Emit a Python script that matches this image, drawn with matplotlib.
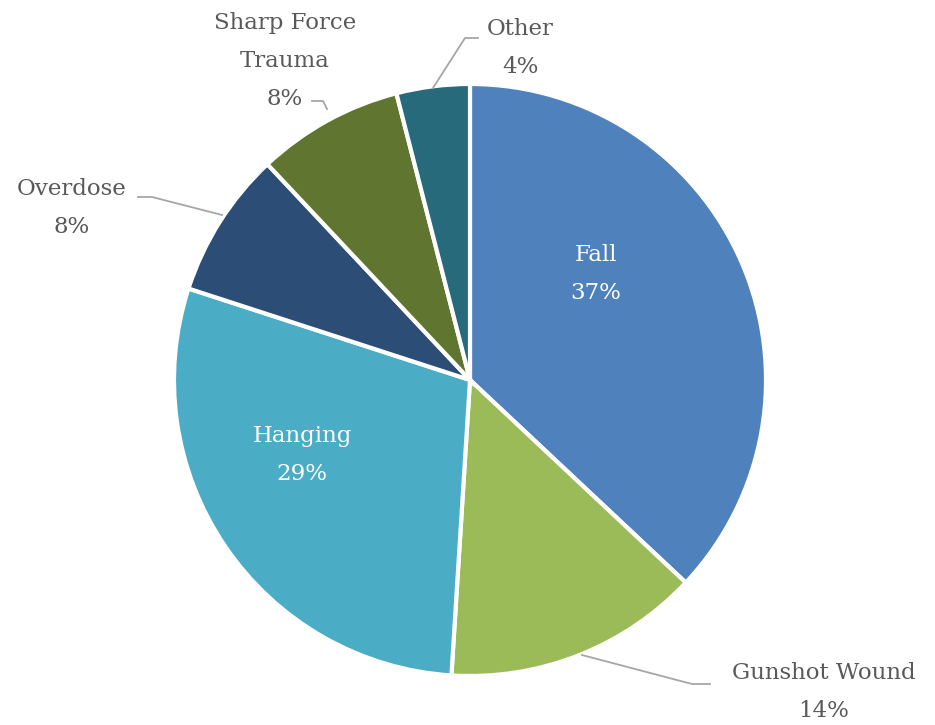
import matplotlib
matplotlib.use("Agg")
import matplotlib.pyplot as plt

labels = ["Fall", "Gunshot Wound", "Hanging", "Overdose", "Sharp Force\nTrauma", "Other"]
shares = [37, 14, 29, 8, 8, 4]
colors = ["#4F81BD", "#9BBB59", "#4BACC6", "#2C4D75", "#5F7530", "#276A7C"]

W, H = 935, 725
fig = plt.figure(figsize=(W / 100, H / 100), dpi=100)
ax = fig.add_axes([0, 0, 1, 1])

cx, cy, R = 470, H - 380, 296
ax.pie(shares, colors=colors, startangle=90, counterclock=False,
       center=(cx, cy), radius=R, frame=True,
       wedgeprops=dict(edgecolor="white", linewidth=3))
ax.set_xlim(0, W)
ax.set_ylim(0, H)
ax.set_aspect("equal")
ax.axis("off")

font = dict(family="DejaVu Serif", fontsize=16.5, ha="center", va="center",
            linespacing=1.95)

# inside labels
ax.text(596, H - 274, f"{labels[0]}\n{shares[0]}%", color="white", **font)
ax.text(302, H - 455, f"{labels[2]}\n{shares[2]}%", color="white", **font)

# outside labels with leader lines
grey = "#595959"
ax.text(824, H - 692, f"{labels[1]}\n{shares[1]}%", color=grey, **font)
ax.text(72, H - 208, f"{labels[3]}\n{shares[3]}%", color=grey, **font)
ax.text(285, H - 61, f"{labels[4]}\n{shares[4]}%", color=grey, **font)
ax.text(520, H - 48, f"{labels[5]}\n{shares[5]}%", color=grey, **font)

lc = dict(color="#a6a6a6", lw=1.3)
ax.plot([582, 692, 710], [H - 655, H - 684, H - 684], **lc)
ax.plot([138, 152, 222], [H - 197, H - 197, H - 215], **lc)
ax.plot([312, 323, 327], [H - 101, H - 101, H - 109], **lc)
ax.plot([478, 465, 433], [H - 38, H - 38, H - 88], **lc)

fig.savefig("out.png", dpi=100)
